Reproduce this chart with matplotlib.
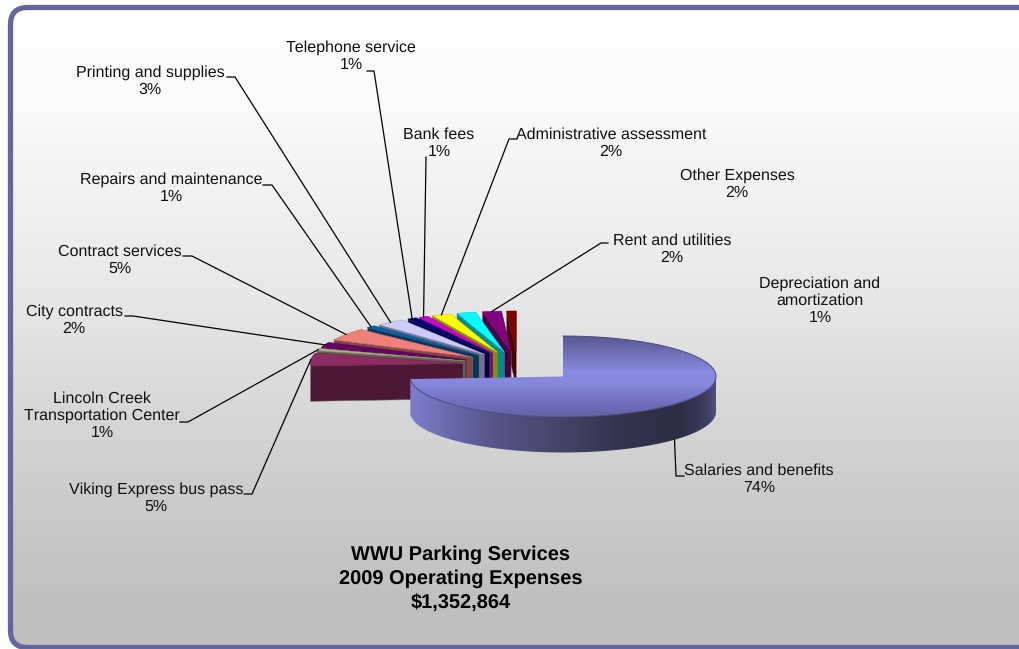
import numpy as np
import matplotlib
matplotlib.use('Agg')
import matplotlib.pyplot as plt
from matplotlib.colors import LinearSegmentedColormap
from matplotlib.patches import FancyBboxPatch, Polygon

plt.rcParams['font.family'] = ['Liberation Sans', 'DejaVu Sans']
plt.rcParams['text.hinting'] = 'no_hinting'
plt.rcParams['text.hinting_factor'] = 1

# expense categories, clockwise from twelve o'clock
labels = ['Salaries and benefits', 'Viking Express bus pass',
          'Lincoln Creek\nTransportation Center', 'City contracts',
          'Contract services', 'Repairs and maintenance',
          'Printing and supplies', 'Telephone service', 'Bank fees',
          'Administrative assessment', 'Other Expenses',
          'Rent and utilities', 'Depreciation and\namortization']
shares = [74, 5, 1, 2, 5, 1, 3, 1, 1, 2, 2, 2, 1]
colors = ['#8888e0', '#8c2c62', '#b8a98a', '#660066', '#f0807a', '#0a62a8',
          '#ccccff', '#000080', '#d000d0', '#ffff00', '#00ffff', '#800080',
          '#800000']
title = 'WWU Parking Services\n2009 Operating Expenses\n$1,352,864'

# label centres in pixels, same order as labels
label_x = [759, 156, 102, 74, 119.5, 171, 150, 351, 439, 611, 737, 672, 820]
label_y = [479, 498, 416, 320, 260, 188, 81, 56, 143, 143, 184, 249, 301]
# leader line start and elbow, None where a label has no leader
leader_start = [(684, 476), (244, 494), (180, 422), (125, 316), (183, 256),
                (263, 185), (227, 77), (367, 71), None, (517, 139), None,
                (608, 243), None]
leader_elbow = [(676, 476), (252, 494), (188, 422), (133, 316), (192, 256),
                (272, 185), (235, 77), (374, 71), (426, 157), (509, 139), None,
                (601, 243), None]

# pie geometry
cx, cy = 563, 376.5
rx, ry = 153, 40.5
depth = 35.5
shift_x, shift_y = -45, -12
explode_x, explode_y = 55, 13

fig = plt.figure(figsize=(10.19, 6.49), dpi=100)
ax = fig.add_axes([0, 0, 1, 1])
ax.set_xlim(0, 1019)
ax.set_ylim(649, 0)
ax.axis('off')


def rim(theta):
    return np.sin(theta) * rx, -np.cos(theta) * ry


def darker(color, k):
    return tuple(c * k for c in matplotlib.colors.to_rgb(color))


def gradient(stops, clip, vertical=True, extent=None):
    # stops are (pixel, colour) along the gradient axis
    a, b = stops[0][0], stops[-1][0]
    cmap = LinearSegmentedColormap.from_list(
        'g', [((p - a) / (b - a), c) for p, c in stops])
    ramp = np.linspace(0, 1, 512)
    ramp = ramp[:, None] if vertical else ramp[None, :]
    if extent is None:
        extent = (0, 1019, b, a) if vertical else (a, b, 649, 0)
    im = ax.imshow(ramp, cmap=cmap, extent=extent, aspect='auto', zorder=clip.get_zorder())
    im.set_clip_path(clip)
    return im


# panel with rounded corners running off the right side
panel = FancyBboxPatch((10.5, 7.5), 1040, 640,
                       boxstyle='round,pad=0,rounding_size=17',
                       fc='none', ec='#66669e', lw=3.8, zorder=2)
ax.add_patch(panel)
back = FancyBboxPatch((10.5, 7.5), 1040, 640,
                      boxstyle='round,pad=0,rounding_size=17',
                      fc='none', ec='none', zorder=1)
ax.add_patch(back)
gradient([(8, '#ffffff'), (100, '#fbfbfb'), (300, '#e7e7e7'),
          (500, '#cbcbcb'), (600, '#c0c0c0'), (648, '#bfbfbf')], back)

# small slices are pulled out of the pie, drawn from back to front
angles = np.radians(np.cumsum([0] + shares) * 3.6)
z = 3.0
for i in range(len(shares) - 1, 0, -1):
    t1, t2 = angles[i], angles[i + 1]
    mid = (t1 + t2) / 2
    ax_, ay_ = (cx + shift_x + explode_x * np.sin(mid),
                cy + shift_y - explode_y * np.cos(mid))
    ts = np.linspace(t1, t2, 20)
    xs, ys = rim(ts)
    top = np.column_stack([np.r_[ax_, ax_ + xs], np.r_[ay_, ay_ + ys]])
    x1, y1 = ax_ + xs[0], ay_ + ys[0]
    side = [(x1, y1), (ax_, ay_), (ax_, ay_ + depth), (x1, y1 + depth)]
    ax.add_patch(Polygon(side, fc=darker(colors[i], 0.55), ec='#777777', lw=0.4, zorder=z))
    ax.add_patch(Polygon(top, fc=colors[i], ec=darker(colors[i], 0.8), lw=0.4, zorder=z + 0.1))
    z += 0.2
    if leader_elbow[i] is not None:
        mx, my = rim(mid)
        end = (ax_ + mx, ay_ + my)
        pts = [p for p in (leader_start[i], leader_elbow[i], end) if p is not None]
        ax.plot(*zip(*pts), color='black', lw=0.9, zorder=8)

# large slice: outer wall then top face
t_main = angles[1]
ts = np.linspace(np.pi / 2, t_main, 120)
xs, ys = rim(ts)
wall = Polygon(np.column_stack([np.r_[cx + xs, (cx + xs)[::-1]],
                                np.r_[cy + ys, (cy + ys)[::-1] + depth]]),
               fc='none', ec='none', zorder=6)
ax.add_patch(wall)
gradient([(409, '#7e7ed0'), (440, '#6f6fb4'), (490, '#56568c'), (560, '#444468'),
          (620, '#34344f'), (680, '#2c2c44'), (705, '#3c3c5c'), (717, '#50507c')],
         wall, vertical=False, extent=(409, 717, 460, 370))

ts = np.linspace(0, t_main, 240)
xs, ys = rim(ts)
face = Polygon(np.column_stack([np.r_[cx, cx + xs], np.r_[cy, cy + ys]]),
               fc='none', ec='none', zorder=6.5)
ax.add_patch(face)
gradient([(336, '#58588f'), (352, '#6e6eb4'), (372, '#8a8ae2'), (385, '#8686dc'),
          (402, '#7070bc'), (418, '#6262a4')], face, extent=(400, 725, 418, 336))
ax.plot(cx + xs, cy + ys, color='#4a4a80', lw=0.7, zorder=7)

mid = t_main / 2
mx, my = rim(mid)
ax.plot(*zip(leader_start[0], leader_elbow[0], (cx + mx, cy + my + depth)),
        color='black', lw=0.9, zorder=8)

for name, share, x, y in zip(labels, shares, label_x, label_y):
    ax.text(x, y, f'{name}\n{share}%', ha='center', va='center', fontsize=11.3,
            linespacing=1.18, color='#111111', zorder=9)
ax.text(461, 579, title, ha='center', va='center', fontsize=14.2,
        fontweight='bold', linespacing=1.36, color='black', zorder=9)

ax.set_xlim(0, 1019)
ax.set_ylim(649, 0)
fig.savefig('out.png', dpi=100, facecolor='white')
